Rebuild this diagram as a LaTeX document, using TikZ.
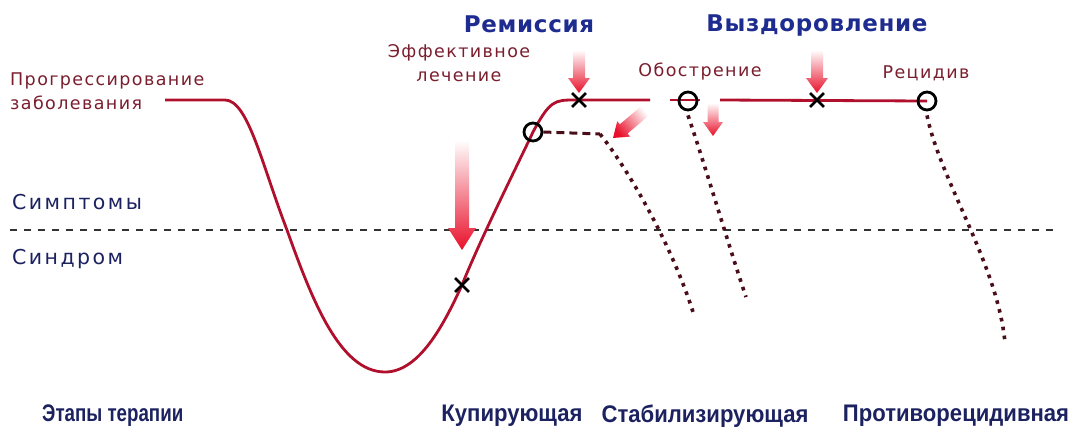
\documentclass[tikz,border=0pt]{standalone}
\usepackage{fontspec}
\setmainfont{DejaVu Sans}
\newfontfamily\narfont[FakeStretch=0.92]{Liberation Sans}
\newfontfamily\narrowerfont[FakeStretch=0.78]{Liberation Sans}
\newfontfamily\wideredfont[LetterSpace=8]{DejaVu Sans}
\newfontfamily\widesidefont[LetterSpace=12]{DejaVu Sans}
\newfontfamily\wideheadfont[LetterSpace=3]{DejaVu Sans}
\usetikzlibrary{shapes.misc}
\definecolor{curvered}{HTML}{B0102C}
\definecolor{arrowred}{HTML}{E8102A}
\definecolor{maroon}{HTML}{7A1E2E}
\definecolor{headblue}{HTML}{1E2C90}
\definecolor{navy}{HTML}{1C2260}
\definecolor{dotcol}{HTML}{4A0E1A}
\tikzset{
  curve/.style={draw=curvered, line width=2.8pt, line join=round},
  dotline/.style={draw=dotcol, line width=3.6pt, dash pattern=on 3.6pt off 5.4pt},
  dashline/.style={draw=dotcol, line width=3pt, dash pattern=on 8pt off 5pt},
  levelline/.style={draw=black!80, line width=1.8pt, dash pattern=on 7pt off 7pt},
  ringmark/.style={circle, draw=black, line width=2.8pt, minimum size=18pt, inner sep=0pt},
  crossmark/.style={cross out, draw=black, line width=2.8pt, minimum size=11pt, inner sep=0pt},
  redlabel/.style={text=maroon, font=\wideredfont\fontsize{17.5}{24}\selectfont, align=center, inner sep=0pt},
  bluehead/.style={text=headblue, font=\wideheadfont\fontsize{23}{26}\selectfont\bfseries, inner sep=0pt},
  sidelabel/.style={text=navy, font=\widesidefont\fontsize{20.5}{22}\selectfont, inner sep=0pt, anchor=west},
  stagelabel/.style={text=navy, font=\narfont\fontsize{24}{26}\selectfont\bfseries, inner sep=0pt},
}
\newcommand\varrow[6]{%
  \shade[top color=white, bottom color=arrowred]
    (#1-#4/2,#2) -- (#1+#4/2,#2) -- (#1+#4/2,#3-#6) -- (#1+#5/2,#3-#6)
    -- (#1,#3) -- (#1-#5/2,#3-#6) -- (#1-#4/2,#3-#6) -- cycle;}
\begin{document}
\begin{tikzpicture}[x=1pt,y=-1pt]
\useasboundingbox (0,0) rectangle (1075,437);
% level line
\coordinate (lvlL) at (10,230);
\coordinate (lvlR) at (1060,230);
\draw[levelline] (lvlL) -- (lvlR);
% arrows
\varrow{462}{140}{250}{14}{28}{22}
\varrow{579}{50}{93}{12}{22}{15}
\varrow{817}{50}{93}{12}{22}{15}
\varrow{713}{103}{136}{11}{20}{14}
\shade[top color=white, bottom color=arrowred, shading angle=-50]
  (613,138) -- (630.2,136.6) -- (627.6,133.5) -- (649.8,114.7) -- (642.0,105.5)
  -- (619.8,124.3) -- (617.2,121.2) -- cycle;
% markers positions
\coordinate (start) at (165,100);
\coordinate (e1) at (650,100);
\coordinate (s2) at (670,100);
\coordinate (e2) at (700,100);
\coordinate (s3) at (720,100);
% curve
\draw[curve] (start) -- (225,100) .. controls (248,100) and (262,165) .. (287,230)
  .. controls (312,300) and (340,372) .. (385,372)
  .. controls (420,372) and (445,322) .. (462,285)
  .. controls (480,240) and (515,170) .. (533,132)
  .. controls (550,100) and (555,100) .. (575,100) -- (e1);
\draw[curve] (s2) -- (e2);
\draw[curve] (s3) -- (927,101);
% marks
\node[crossmark] (x1) at (462,285) {};
\node[crossmark] (x2) at (579,100) {};
\node[crossmark] (x3) at (817,100) {};
\node[ringmark] (c1) at (533,132) {};
\node[ringmark] (c2) at (688,101) {};
\node[ringmark] (c3) at (927,101) {};
% dotted continuations
\coordinate (d1a) at (600,134);
\coordinate (d1b) at (693,312);
\coordinate (d2b) at (746,297);
\coordinate (d3b) at (1005,343);
\draw[dashline] (c1.east) -- (d1a);
\draw[dotline] (d1a) .. controls (625,165) and (670,240) .. (d1b);
\draw[dotline] ([yshift=-4pt]c2.south) .. controls (705,165) and (730,250) .. (d2b);
\draw[dotline] ([yshift=-4pt]c3.south) .. controls (940,180) and (998,265) .. (d3b);
% labels
\node[redlabel, anchor=west, align=left] (prog) at (10,91) {Прогрессирование\\заболевания};
\node[redlabel] (eff) at (459,63) {Эффективное\\лечение};
\node[bluehead] (rem) at (529,24) {Ремиссия};
\node[bluehead] (vyz) at (817,26) {Выздоровление};
\node[redlabel] (obo) at (700,72) {Обострение};
\node[redlabel] (rec) at (926,73) {Рецидив};
\node[sidelabel] (sym) at (12,202) {Симптомы};
\node[sidelabel] (syn) at (12,259) {Синдром};
\node[stagelabel, anchor=west, font=\narrowerfont\fontsize{24}{26}\selectfont\bfseries] (st0) at (42,416) {Этапы терапии};
\node[stagelabel] (st1) at (512,416) {Купирующая};
\node[stagelabel] (st2) at (705,416) {Стабилизирующая};
\node[stagelabel] (st3) at (956,416) {Противорецидивная};
\end{tikzpicture}
\end{document}
